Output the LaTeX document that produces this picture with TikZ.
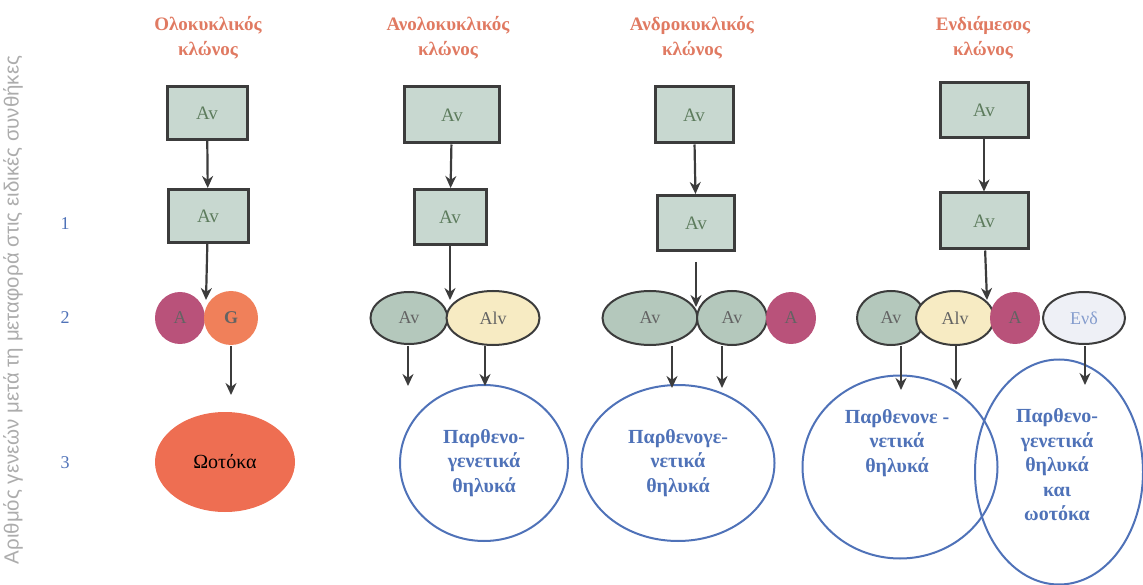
\documentclass[tikz,border=0pt]{standalone}
\usepackage{fontspec}
\setmainfont{Liberation Serif}
\setsansfont{Liberation Sans}
\usetikzlibrary{shapes.geometric, arrows.meta}
\definecolor{salmon}{HTML}{E07A62}
\definecolor{blu}{HTML}{4F72B8}
\definecolor{boxfill}{HTML}{C8D8D0}
\definecolor{avfill}{HTML}{B4C8BC}
\definecolor{alvfill}{HTML}{F7EBC3}
\definecolor{afill}{HTML}{B9527A}
\definecolor{gfill}{HTML}{F0805A}
\definecolor{ofill}{HTML}{EE6E52}
\definecolor{endfill}{HTML}{EEF0F6}
\definecolor{edge}{HTML}{3C3C3C}
\begin{document}
\begin{tikzpicture}[x=1pt, y=-1pt, >={Stealth[length=12pt, width=11pt]},
  title/.style={text=salmon, font=\fontsize{19}{25}\selectfont\bfseries, align=center},
  clone/.style={draw=edge, line width=3pt, fill=boxfill, minimum width=80pt, minimum height=53pt, text=edge!70!green!40!gray, font=\fontsize{19}{19}\selectfont},
  blob/.style={ellipse, draw=edge, line width=2pt, inner sep=0pt, font=\fontsize{18}{18}\selectfont, text=edge!80},
  brood/.style={ellipse, draw=blu, line width=2pt, inner sep=0pt, text=blu, align=center, font=\fontsize{20}{24.5}\selectfont\bfseries},
  gen/.style={text=blu, font=\fontsize{18}{18}\selectfont},
  arr/.style={->, draw=edge, line width=2.2pt}]
\useasboundingbox (0,0) rectangle (1143,585);

\node[rotate=90, text=gray!65, font=\sffamily\fontsize{20.5}{20.5}\selectfont] (axis) at (13,310) {Αριθμός γενεών μετά τη μεταφορά στις ειδικές συνθήκες};
\node[gen] (g1) at (65,224) {1};
\node[gen] (g2) at (65,318) {2};
\node[gen] (g3) at (65,463) {3};

% holocyclic
\node[title] (t1) at (208,38) {Ολοκυκλικός\\κλώνος};
\node[clone] (c1a) at (207,113) {Av};
\node[clone] (c1b) at (208,216) {Av};
\node[blob, draw=none, fill=afill, minimum width=50pt, minimum height=52pt] (c1A) at (180,318) {A};
\node[blob, draw=none, fill=gfill, minimum width=54pt, minimum height=54pt, font=\fontsize{18}{18}\selectfont\bfseries] (c1G) at (231,318) {G};
\node[ellipse, fill=ofill, minimum width=140pt, minimum height=100pt, font=\fontsize{20}{20}\selectfont] (c1o) at (225,462) {Ωοτόκα};
\coordinate (j1) at (206,300);
\draw[arr] (c1a) -- (c1b);
\draw[arr] (c1b) -- (j1);
\draw[arr] (c1G) -- (231,395);

% anholocyclic
\node[title] (t2) at (448,38) {Ανολοκυκλικός\\κλώνος};
\node[clone, minimum width=95pt, minimum height=56pt] (c2a) at (452,115) {Av};
\node[clone, minimum width=72pt, minimum height=55pt] (c2b) at (450,217) {Av};
\node[blob, fill=avfill, minimum width=77pt, minimum height=52pt] (c2v) at (409,318) {Av};
\node[blob, fill=alvfill, minimum width=93pt, minimum height=54pt] (c2l) at (493,318) {Alv};
\node[brood, minimum width=168pt, minimum height=156pt] (c2p) at (484,463) {Παρθενο-\\γενετικά\\θηλυκά};
\coordinate (j2) at (450,300);
\draw[arr] (c2a) -- (c2b);
\draw[arr] (c2b) -- (j2);
\draw[arr] (408,346) -- (408,386);
\draw[arr] (485,346) -- (485,386);

% androcyclic
\node[title] (t3) at (692,38) {Ανδροκυκλικός\\κλώνος};
\node[clone, minimum width=78pt, minimum height=56pt] (c3a) at (694,115) {Av};
\node[clone, minimum width=77pt, minimum height=55pt] (c3b) at (696,223) {Av};
\node[blob, fill=avfill, minimum width=95pt, minimum height=54pt] (c3v) at (650,318) {Av};
\node[blob, fill=avfill, minimum width=70pt, minimum height=54pt] (c3w) at (732,318) {Av};
\node[blob, draw=none, fill=afill, minimum width=50pt, minimum height=52pt] (c3A) at (791,318) {A};
\node[brood, minimum width=193pt, minimum height=156pt] (c3p) at (678,463) {Παρθενογε-\\νετικά\\θηλυκά};
\coordinate (j3) at (696,307);
\draw[arr] (c3a) -- (c3b);
\draw[arr] (696,262) -- (j3);
\draw[arr] (672,346) -- (672,388);
\draw[arr] (722,346) -- (722,388);

% intermediate
\node[title] (t4) at (983,38) {Ενδιάμεσος\\κλώνος};
\node[clone, minimum width=88pt, minimum height=55pt] (c4a) at (984,110) {Av};
\node[clone, minimum width=88pt, minimum height=56pt] (c4b) at (984,221) {Av};
\node[brood, minimum width=195pt, minimum height=183pt] (c4p) at (900,467) {};
\node[brood, minimum width=168pt, minimum height=225pt] (c4q) at (1059,472) {};
\node[blob, fill=avfill, minimum width=68pt, minimum height=54pt] (c4v) at (891,318) {Av};
\node[blob, fill=alvfill, minimum width=78pt, minimum height=54pt] (c4l) at (955,318) {Alv};
\node[blob, draw=none, fill=afill, minimum width=50pt, minimum height=52pt] (c4A) at (1015,318) {A};
\node[blob, fill=endfill, minimum width=82pt, minimum height=52pt, text=blu!70] (c4e) at (1084,318) {Ενδ};
\node[brood, draw=none] (c4pt) at (897,443) {Παρθενονε -\\νετικά\\θηλυκά};
\node[brood, draw=none] (c4qt) at (1057,465) {Παρθενο-\\γενετικά\\θηλυκά\\και\\ωοτόκα};
\coordinate (j4) at (987,300);
\draw[arr] (c4a) -- (c4b);
\draw[arr] (c4b) -- (j4);
\draw[arr] (901,346) -- (901,390);
\draw[arr] (956,346) -- (956,390);
\draw[arr] (1085,346) -- (1085,385);
\end{tikzpicture}
\end{document}
